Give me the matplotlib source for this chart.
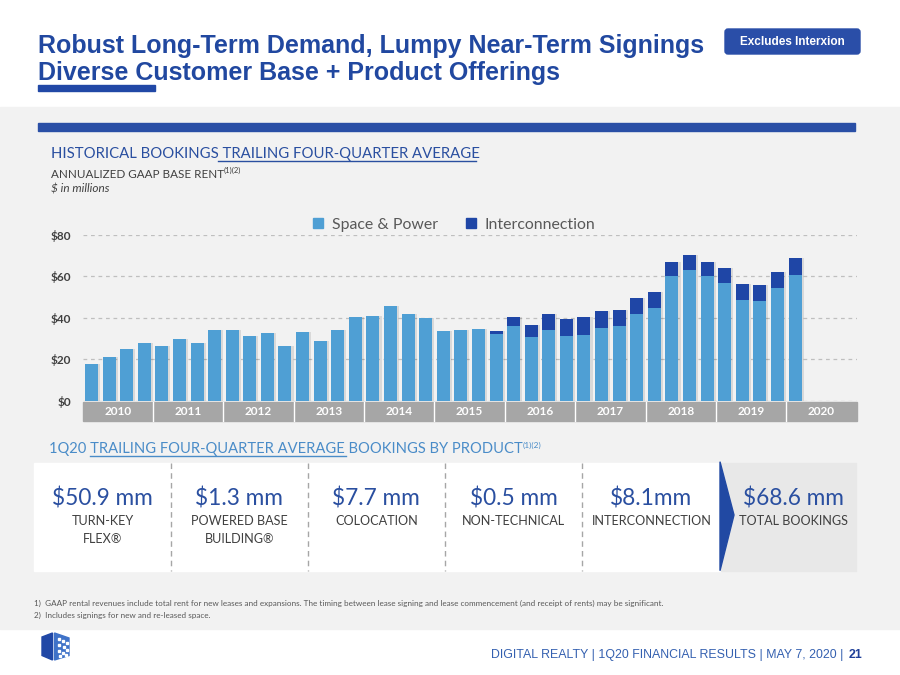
import matplotlib
matplotlib.use('Agg')
import matplotlib.pyplot as plt
from matplotlib.patches import Rectangle, Polygon, FancyBboxPatch
from matplotlib.transforms import blended_transform_factory
import numpy as np

# data ($ millions, trailing four-quarter average)
years = ['2010', '2011', '2012', '2013', '2014', '2015', '2016', '2017', '2018', '2019', '2020']
space_power = [17.8, 21.2, 24.9, 27.9, 26.5, 29.6, 28.1, 34.2,
               34.2, 31.3, 32.6, 26.5, 33.1, 28.9, 34.2, 40.5,
               41.0, 45.6, 41.9, 39.8, 33.6, 34.0, 34.5, 32.0,
               36.3, 31.0, 34.2, 31.5, 31.8, 35.2, 36.0, 41.9,
               44.8, 60.2, 63.1, 59.9, 57.0, 48.5, 48.3, 54.5, 60.5]
interconnection = [0] * 23 + [1.7, 4.0, 5.5, 7.7, 8.0, 8.5, 8.0, 7.9, 7.7,
                              7.7, 6.9, 6.9, 6.9, 7.1, 7.6, 7.4, 7.7, 8.1]
y_ticks = [0, 20, 40, 60, 80]
y_labels = ['$0', '$20', '$40', '$60', '$80']

product_values = ['$50.9 mm', '$1.3 mm', '$7.7 mm', '$0.5 mm', '$8.1mm']
product_names = ['TURN-KEY\nFLEX®', 'POWERED BASE\nBUILDING®', 'COLOCATION',
                 'NON-TECHNICAL', 'INTERCONNECTION']
total_value = '$68.6 mm'
total_name = 'TOTAL BOOKINGS'

BLUE = '#2148a0'
LIGHT = '#4f9fd4'
DARK = '#1f46a6'
GRAY_TXT = '#404040'
SANS = ['Lato', 'DejaVu Sans']
ARIAL = ['Liberation Sans', 'DejaVu Sans']

fig = plt.figure(figsize=(9, 6.75), dpi=100)
bg = fig.add_axes([0, 0, 1, 1])
bg.set_xlim(0, 900)
bg.set_ylim(675, 0)
bg.axis('off')
renderer = fig.canvas.get_renderer()


def fit(t, width):
    bb = t.get_window_extent(renderer)
    t.set_fontsize(t.get_fontsize() * width / bb.width)
    return t


# backgrounds
bg.add_patch(Rectangle((0, 107), 900, 522, color='#f2f2f2', zorder=0))
bg.add_patch(Rectangle((38, 123), 817, 8, color='#2a4fa6', zorder=1))

# title
t1 = bg.text(38, 53, 'Robust Long-Term Demand, Lumpy Near-Term Signings',
             family=ARIAL, weight='bold', fontsize=18, color=BLUE, va='baseline')
fit(t1, 667)
t2 = bg.text(38, 80, 'Diverse Customer Base + Product Offerings',
             family=ARIAL, weight='bold', fontsize=t1.get_fontsize(), color=BLUE, va='baseline')
bg.add_patch(Rectangle((38, 85), 117, 5.5, color='#2148a6', zorder=2))

bg.add_patch(FancyBboxPatch((725, 29), 135, 25, boxstyle='round,pad=0,rounding_size=3',
                            color='#2a4ea8', zorder=2))
bg.text(792, 42, 'Excludes Interxion', family=ARIAL, weight='bold', fontsize=8.5,
        color='white', ha='center', va='center', zorder=3)

# chart header
h1 = bg.text(50.7, 158.3, 'HISTORICAL BOOKINGS TRAILING FOUR-QUARTER AVERAGE',
             family=SANS, fontsize=12, color='#2a4fa0', va='baseline')
fit(h1, 425)
bg.plot([218, 475.5], [160.5, 160.5], color='#2a4fa0', lw=1)
h2 = bg.text(50.7, 177.7, 'ANNUALIZED GAAP BASE RENT', family=SANS, fontsize=8,
             color=GRAY_TXT, va='baseline')
fit(h2, 172)
bg.text(223.5, 172.5, '(1)(2)', family=SANS, fontsize=5.5, color=GRAY_TXT, va='baseline')
h3 = bg.text(50.7, 193, '$ in millions', family=SANS, style='italic', fontsize=8,
             color=GRAY_TXT, va='baseline')
fit(h3, 58)

# legend
bg.add_patch(Rectangle((313, 218), 10, 10, color=LIGHT))
bg.add_patch(Rectangle((465.5, 218), 10, 10, color=DARK))
l1 = bg.text(331.5, 229, 'Space & Power', family=SANS, fontsize=11, color='#595959', va='baseline')
fit(l1, 105.5)
bg.text(484, 229, 'Interconnection', family=SANS, fontsize=l1.get_fontsize(),
        color='#595959', va='baseline')

# bar chart
ax = fig.add_axes([82.7 / 900, 1 - 401 / 675, (856.6 - 82.7) / 900, (401 - 234.7) / 675])
ax.patch.set_alpha(0)
x = np.arange(len(space_power))
total = np.array(space_power) + np.array(interconnection)
ax.bar(x + 0.12, total, 0.74, color='#000000', alpha=0.10, zorder=1)
ax.bar(x, space_power, 0.74, color=LIGHT, zorder=2)
ax.bar(x, interconnection, 0.74, bottom=space_power, color=DARK, zorder=2)
for v in y_ticks:
    ax.axhline(v, color='#bfbfbf', lw=0.9, ls=(0, (3, 3)), zorder=0)
ax.set_xlim(-0.5, 4 * len(years) - 0.5)
ax.set_ylim(0, 80)
ax.set_yticks(y_ticks, y_labels)
ax.set_xticks([])
ax.tick_params(axis='y', length=0, pad=8.5, labelsize=8.5, labelcolor=GRAY_TXT)
for lab in ax.get_yticklabels():
    lab.set_fontweight('bold')
    lab.set_family(SANS)
for s in ax.spines.values():
    s.set_visible(False)

# year band under the bars
tr = blended_transform_factory(ax.transData, ax.transAxes)
for i, yr in enumerate(years):
    ax.add_patch(Rectangle((4 * i - 0.5, -0.118), 4, 0.114, transform=tr,
                           color='#a6a6a6', clip_on=False, zorder=3))
    if i > 0:
        ax.plot([4 * i - 0.5] * 2, [-0.118, -0.004], transform=tr, color='white',
                lw=1, clip_on=False, zorder=4)
    ax.text(4 * i + 1.5, -0.062, yr, transform=tr, ha='center', va='center',
            family=SANS, weight='bold', fontsize=8.5, color='white', zorder=5)

# product section
s1 = bg.text(48.8, 453, '1Q20 TRAILING FOUR-QUARTER AVERAGE BOOKINGS BY PRODUCT',
             family=SANS, fontsize=11, color='#4a8cc8', va='baseline')
fit(s1, 473)
bg.plot([90, 346], [455.5, 455.5], color='#4a8cc8', lw=1)
bg.text(523, 447.5, '(1)(2)', family=SANS, fontsize=6, color='#4a8cc8', va='baseline')

bounds = [34, 171, 307.5, 445, 582, 721, 856]
top, bot = 462.7, 570.7
bg.add_patch(Rectangle((bounds[0], top), bounds[5] - bounds[0], bot - top, color='white', zorder=1))
bg.add_patch(Rectangle((bounds[5], top), bounds[6] - bounds[5], bot - top, color='#e8e8e8', zorder=1))
bg.add_patch(Polygon([(bounds[5] - 1, top - 1), (734, 515), (bounds[5] - 1, bot)],
                     closed=True, color='#2149a3', zorder=2))
for b in bounds[1:5]:
    bg.plot([b, b], [top, bot], color='#a6a6a6', lw=1, ls=(0, (4, 3)), zorder=2)

v0 = bg.text(0, 0, product_values[0], family=SANS, fontsize=17)
fit(v0, 101)
vsize = v0.get_fontsize()
v0.remove()
n0 = bg.text(0, 0, 'POWERED BASE', family=SANS, fontsize=10)
fit(n0, 96)
nsize = n0.get_fontsize()
n0.remove()

for i, (val, name) in enumerate(zip(product_values, product_names)):
    cx = (bounds[i] + bounds[i + 1]) / 2
    bg.text(cx, 505, val, family=SANS, fontsize=vsize, color='#2a4fa0',
            ha='center', va='baseline', zorder=3)
    for k, line in enumerate(name.split('\n')):
        bg.text(cx, 525.3 + 18 * k, line, family=SANS, fontsize=nsize, color=GRAY_TXT,
                ha='center', va='baseline', zorder=3)
cx = (bounds[5] + bounds[6]) / 2 + 5
bg.text(cx, 505, total_value, family=SANS, fontsize=vsize, color='#2a4fa0',
        ha='center', va='baseline', zorder=3)
bg.text(cx, 525.3, total_name, family=SANS, fontsize=nsize, color=GRAY_TXT,
        ha='center', va='baseline', zorder=3)

# footnotes
f1 = bg.text(34, 606, '1)  GAAP rental revenues include total rent for new leases and expansions. '
             'The timing between lease signing and lease commencement (and receipt of rents) may be significant.',
             family=SANS, fontsize=5.5, color='#595959', va='baseline')
fit(f1, 630)
bg.text(34, 618, '2)  Includes signings for new and re-leased space.', family=SANS,
        fontsize=f1.get_fontsize(), color='#595959', va='baseline')

# footer
ft = bg.text(491, 658, 'DIGITAL REALTY | 1Q20 FINANCIAL RESULTS | MAY 7, 2020 |',
             family=ARIAL, fontsize=8.5, color='#3460b0', va='baseline')
fit(ft, 350)
bg.text(849, 658, '21', family=ARIAL, weight='bold', fontsize=ft.get_fontsize(),
        color='#1f3f99', va='baseline')

# logo
bg.add_patch(Polygon([(42, 637), (52.5, 633), (52.5, 660), (42, 655.5)], color='#2148a6'))
bg.add_patch(Polygon([(54.5, 633), (69, 638), (69, 655.5), (54.5, 660)], color='#3f72c8'))
for px, py in [(58, 638), (62, 640), (66, 642), (58, 644), (63, 646), (58, 650),
               (62, 652), (66, 649), (59, 655), (65, 654)]:
    bg.add_patch(Rectangle((px, py), 1.6, 1.6, color='white'))

fig.savefig('out.png', dpi=100)
